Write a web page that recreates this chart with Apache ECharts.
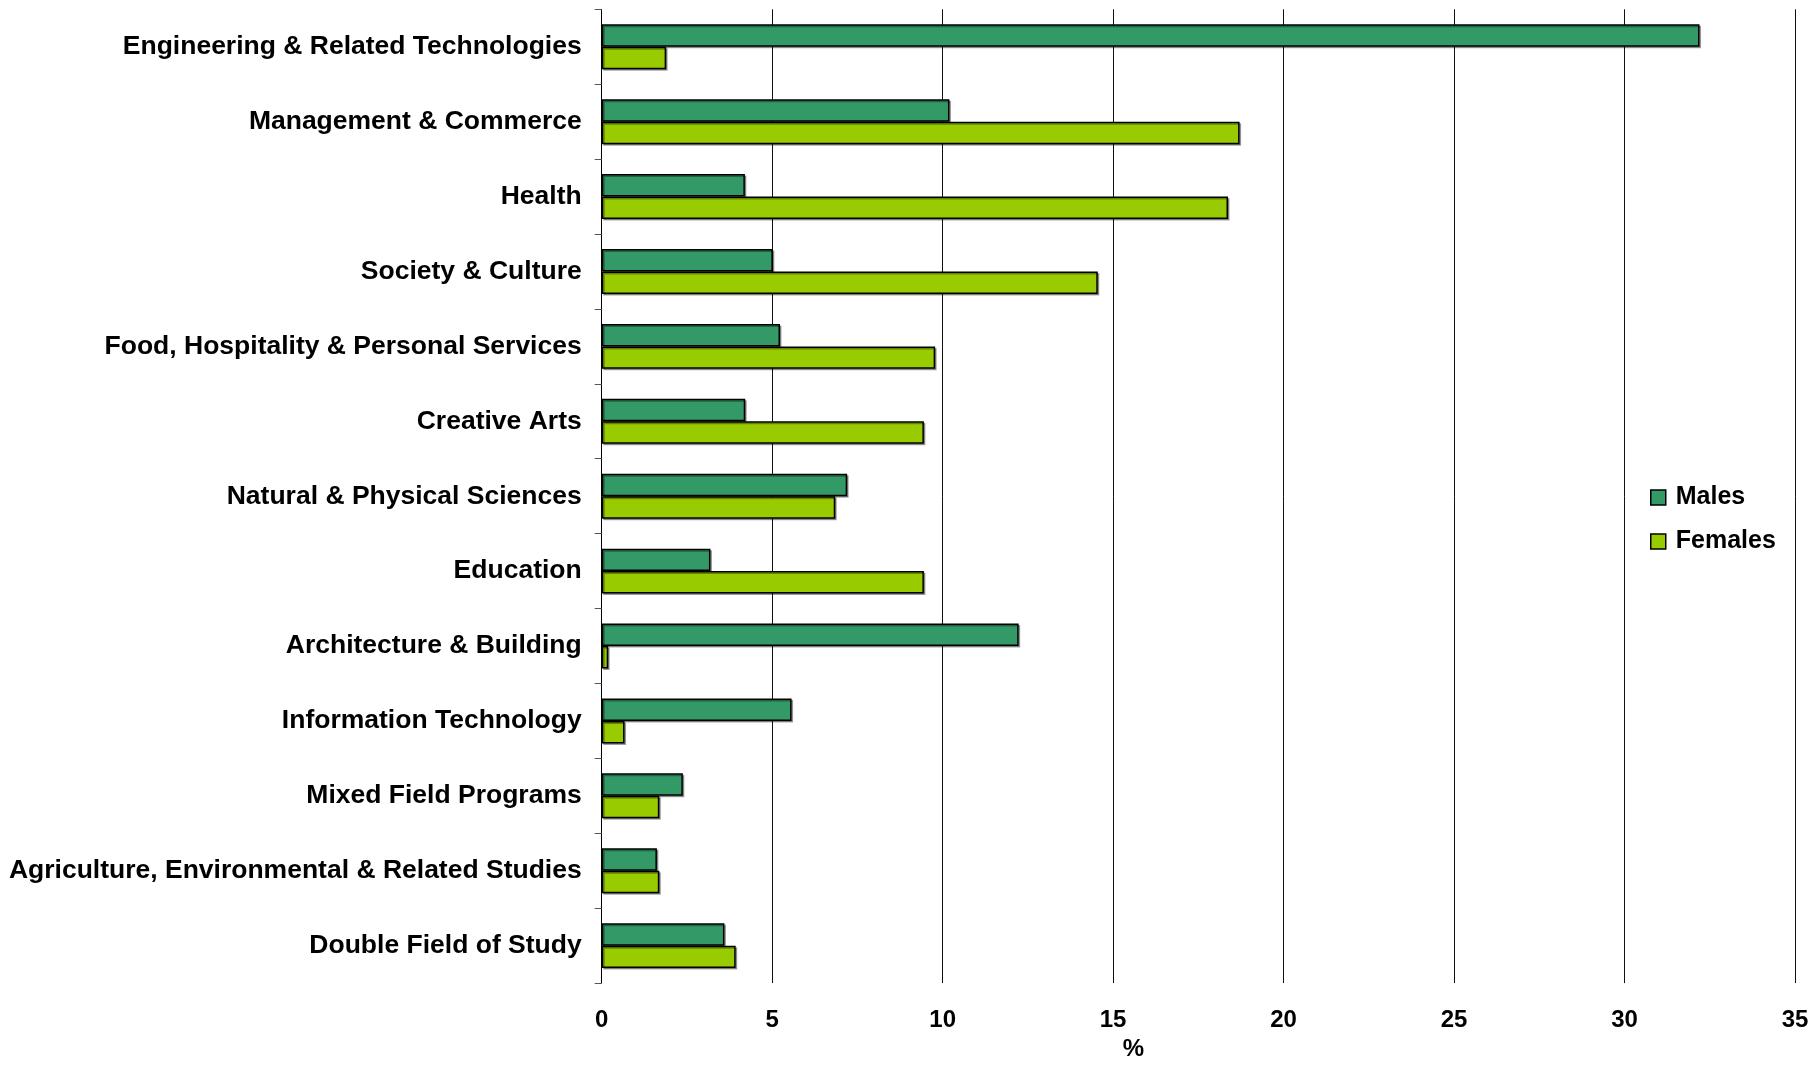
<!DOCTYPE html>
<html>
<head>
<meta charset="utf-8">
<script src="https://cdn.jsdelivr.net/npm/echarts@6/dist/echarts.min.js"></script>
<style>
html,body{margin:0;padding:0;background:#fff;}
#chart{width:1814px;height:1066px;}
</style>
</head>
<body>
<div id="chart"></div>
<script>
const categories = [
  "Engineering & Related Technologies",
  "Management & Commerce",
  "Health",
  "Society & Culture",
  "Food, Hospitality & Personal Services",
  "Creative Arts",
  "Natural & Physical Sciences",
  "Education",
  "Architecture & Building",
  "Information Technology",
  "Mixed Field Programs",
  "Agriculture, Environmental & Related Studies",
  "Double Field of Study"
];
const males   = [32.2, 10.2, 4.2, 5.02, 5.23, 4.21, 7.2, 3.19, 12.23, 5.57, 2.38, 1.62, 3.6];
const females = [1.89, 18.71, 18.37, 14.55, 9.78, 9.45, 6.85, 9.45, 0.19, 0.67, 1.69, 1.69, 3.93];
const xTicks = [0, 5, 10, 15, 20, 25, 30, 35];

const FONT = "'Liberation Sans', Arial, sans-serif";
const chart = echarts.init(document.getElementById('chart'), null, {renderer: 'canvas'});
const barShadow = {shadowColor: 'rgba(0,0,0,0.35)', shadowBlur: 0, shadowOffsetX: 1.5, shadowOffsetY: 1.5};
chart.setOption({
  animation: false,
  backgroundColor: '#ffffff',
  textStyle: {fontFamily: FONT},
  grid: {left: 601.7, right: 19, top: 9.3, bottom: 72.7, containLabel: false},
  legend: {
    data: ['Males', 'Females'],
    orient: 'vertical',
    left: 1645,
    top: 480,
    itemWidth: 15,
    itemHeight: 15,
    itemGap: 19,
    icon: 'rect',
    textStyle: {fontFamily: FONT, fontSize: 25, fontWeight: 'bold', color: '#000', padding: [0, 0, 0, 5]},
    itemStyle: {borderColor: '#000', borderWidth: 1.5}
  },
  xAxis: {
    type: 'value',
    min: xTicks[0],
    max: xTicks[xTicks.length - 1],
    interval: 5,
    name: '%',
    nameLocation: 'middle',
    nameGap: 51,
    nameTextStyle: {fontFamily: FONT, fontSize: 24, fontWeight: 'bold', color: '#000', padding: [0, 130, 0, 0]},
    axisLine: {show: false},
    axisTick: {show: false},
    axisLabel: {fontFamily: FONT, fontSize: 24, fontWeight: 'bold', color: '#000', margin: 25},
    splitLine: {show: true, lineStyle: {color: '#111', width: 1}}
  },
  yAxis: {
    type: 'category',
    data: categories,
    inverse: true,
    axisLine: {show: true, lineStyle: {color: '#000', width: 1}},
    axisTick: {show: true, length: 7, interval: 0, lineStyle: {color: '#555'}},
    axisLabel: {interval: 0, fontFamily: FONT, fontSize: 26.5, fontWeight: 'bold', color: '#000', margin: 20}
  },
  series: [
    {
      name: 'Males', type: 'bar', data: males,
      barGap: '0%', barCategoryGap: '40%',
      itemStyle: Object.assign({color: '#339966', borderColor: '#000', borderWidth: 1.5}, barShadow)
    },
    {
      name: 'Females', type: 'bar', data: females,
      barGap: '0%', barCategoryGap: '40%',
      itemStyle: Object.assign({color: '#99cc00', borderColor: '#000', borderWidth: 1.5}, barShadow)
    }
  ]
});
</script>
</body>
</html>
